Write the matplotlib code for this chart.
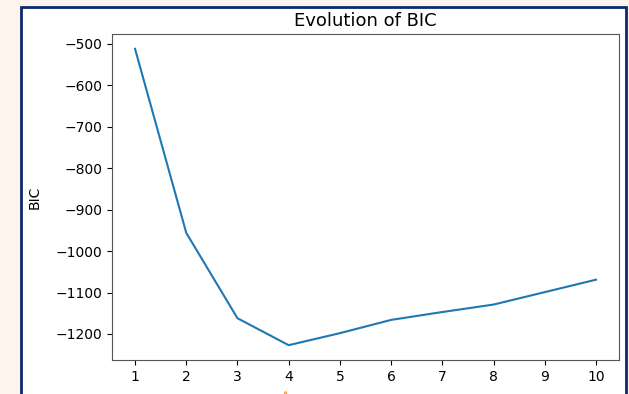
import numpy as np
import matplotlib
matplotlib.use('Agg')
import matplotlib.pyplot as plt
from matplotlib.patches import Rectangle
from matplotlib.lines import Line2D

# number of components vs BIC score
n_components = [1, 2, 3, 4, 5, 6, 7, 8, 9, 10]
bic = [-512, -956, -1162, -1227, -1198, -1166, -1147, -1129, -1099, -1069]

fig = plt.figure(figsize=(6.29, 3.94), dpi=100, facecolor='#fdf5ec')

# white panel with dark blue frame (bottom runs past the image)
panel = Rectangle((21 / 629, -0.05), 605 / 629, 1 - 7 / 394 + 0.05,
                  transform=fig.transFigure, facecolor='white',
                  edgecolor='#0b2a6e', linewidth=2, zorder=-10)
fig.add_artist(panel)

ax = fig.add_axes([112 / 629, 1 - 360 / 394, 507 / 629, 326 / 394])
ax.set_zorder(1)
ax.plot(n_components, bic, color='#1f77b4', linewidth=1.5)
ax.set_xticks(n_components)
ax.set_title('Evolution of BIC', fontsize=13, pad=6)
ax.set_ylabel('BIC', fontsize=10, labelpad=10)
ax.tick_params(labelsize=10)
for s in ax.spines.values():
    s.set_color('#555555')

# tip of an orange marker peeking in at the bottom edge
fig.add_artist(Line2D([285 / 629], [-0.004], transform=fig.transFigure,
                      marker='^', markersize=7, color='#ff9a3c',
                      markerfacecolor='none', linestyle='none'))

fig.savefig('out.png', dpi=100, facecolor=fig.get_facecolor())
